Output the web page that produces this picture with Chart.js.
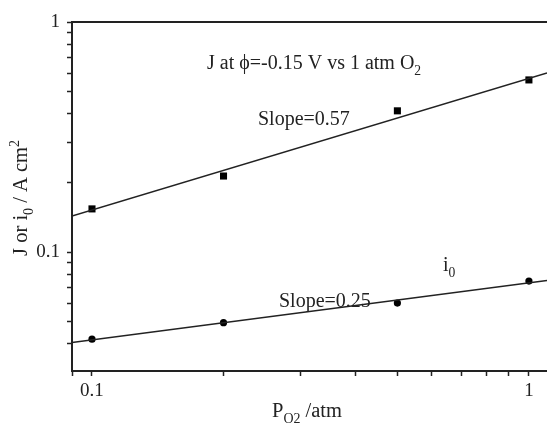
<!DOCTYPE html>
<html>
<head>
<meta charset="utf-8">
<script src="https://cdn.jsdelivr.net/npm/chart.js@4.4.1/dist/chart.umd.min.js"></script>
<style>
  html, body { margin: 0; padding: 0; background: #fff; overflow: hidden; }
  canvas { display: block; }
</style>
</head>
<body>
<canvas id="chart" width="547" height="423"></canvas>
<script>
// data
const pressures = [0.1, 0.2, 0.5, 1];
const jValues = [0.154, 0.214, 0.411, 0.56];
const i0Values = [0.0418, 0.0493, 0.060, 0.0748];

// fitted lines, end points at the plot edges
const fitX = [0.09, 1.1];
const jFit = [0.1435, 0.60];
const i0Fit = [0.0404, 0.0752];

// axes
const xMin = 0.09, xMax = 1.1;
const yMin = 0.0304, yMax = 1;
const xTickValues = [0.09, 0.1, 0.2, 0.3, 0.4, 0.5, 0.6, 0.7, 0.8, 0.9, 1];
const yTickValues = [0.04, 0.05, 0.06, 0.07, 0.08, 0.09, 0.1, 0.2, 0.3, 0.4, 0.5, 0.6, 0.7, 0.8, 0.9, 1];
const labelledTicks = [0.1, 1];

const FONT = '"Liberation Serif", "Times New Roman", serif';
const INK = "#222";

function pts(xs, ys) {
  return xs.map((x, i) => ({ x: x, y: ys[i] }));
}

// text with sub/superscripts: parts = [[text, shift]], shift -1 sub, 1 sup
function richWidth(ctx, parts, size) {
  let w = 0;
  parts.forEach(([t, s]) => {
    ctx.font = (s ? size * 0.68 : size) + "px " + FONT;
    w += ctx.measureText(t).width;
  });
  return w;
}

function drawRich(ctx, parts, x, y, size) {
  let cx = x;
  parts.forEach(([t, s]) => {
    ctx.font = (s ? size * 0.68 : size) + "px " + FONT;
    const dy = s === -1 ? size * 0.28 : s === 1 ? -size * 0.38 : 0;
    ctx.fillText(t, cx, y + dy);
    cx += ctx.measureText(t).width;
  });
}

const textPlugin = {
  id: "texts",
  afterDraw(chart) {
    const ctx = chart.ctx;
    const area = chart.chartArea;
    ctx.save();

    // top frame line
    ctx.strokeStyle = INK;
    ctx.lineWidth = 2;
    ctx.beginPath();
    ctx.moveTo(area.left - 1, area.top);
    ctx.lineTo(area.right, area.top);
    ctx.stroke();

    ctx.fillStyle = INK;
    ctx.textAlign = "left";
    ctx.textBaseline = "alphabetic";

    drawRich(ctx, [["J at ϕ=-0.15 V vs 1 atm O", 0], ["2", -1]], 207, 69, 20);
    drawRich(ctx, [["Slope=0.57", 0]], 258, 125, 20);
    drawRich(ctx, [["Slope=0.25", 0]], 279, 307, 20);
    drawRich(ctx, [["i", 0], ["0", -1]], 443, 271, 20);

    // x axis title
    const xt = [["P", 0], ["O2", -1], [" /atm", 0]];
    const xw = richWidth(ctx, xt, 20.5);
    drawRich(ctx, xt, 307 - xw / 2, 417, 20.5);

    // y axis title
    const yt = [["J or i", 0], ["0", -1], [" / A cm", 0], ["2", 1]];
    const yw = richWidth(ctx, yt, 20.5);
    ctx.translate(27, 198);
    ctx.rotate(-Math.PI / 2);
    drawRich(ctx, yt, -yw / 2, 0, 20.5);

    ctx.restore();
  }
};

function fixedTicks(values) {
  return (scale) => {
    scale.ticks = values.map((v) => ({ value: v, major: labelledTicks.includes(v) }));
  };
}

function tickLabel(value) {
  return labelledTicks.includes(value) ? String(value) : "";
}

new Chart(document.getElementById("chart"), {
  type: "scatter",
  data: {
    datasets: [
      {
        label: "J fit",
        data: pts(fitX, jFit),
        showLine: true,
        borderColor: INK,
        borderWidth: 1.5,
        pointRadius: 0
      },
      {
        label: "i0 fit",
        data: pts(fitX, i0Fit),
        showLine: true,
        borderColor: INK,
        borderWidth: 1.5,
        pointRadius: 0
      },
      {
        label: "J",
        data: pts(pressures, jValues),
        pointStyle: "rect",
        pointRadius: 5,
        backgroundColor: "#000",
        borderColor: "#000",
        borderWidth: 0
      },
      {
        label: "i0",
        data: pts(pressures, i0Values),
        pointStyle: "circle",
        pointRadius: 3.6,
        backgroundColor: "#000",
        borderColor: "#000",
        borderWidth: 0
      }
    ]
  },
  options: {
    responsive: false,
    animation: false,
    layout: { autoPadding: false, padding: { top: 22, left: 0, right: 0, bottom: 0 } },
    plugins: {
      legend: { display: false },
      tooltip: { enabled: false }
    },
    scales: {
      x: {
        type: "logarithmic",
        min: xMin,
        max: xMax,
        afterBuildTicks: fixedTicks(xTickValues),
        afterFit: (scale) => {
          scale.height = 52;
          scale.paddingLeft = 0;
          scale.paddingRight = 0;
        },
        border: { display: true, color: INK, width: 2 },
        grid: { drawOnChartArea: false, tickLength: 5, tickColor: INK, tickWidth: 1.5 },
        ticks: {
          autoSkip: false,
          maxRotation: 0,
          padding: 4,
          color: INK,
          font: { family: FONT, size: 19 },
          callback: tickLabel
        }
      },
      y: {
        type: "logarithmic",
        min: yMin,
        max: yMax,
        afterBuildTicks: fixedTicks(yTickValues),
        afterFit: (scale) => {
          scale.width = 72;
          scale.paddingTop = 0;
          scale.paddingBottom = 0;
        },
        border: { display: true, color: INK, width: 2 },
        grid: { drawOnChartArea: false, tickLength: 5, tickColor: INK, tickWidth: 1.5 },
        ticks: {
          autoSkip: false,
          padding: 7,
          color: INK,
          font: { family: FONT, size: 19 },
          callback: tickLabel
        }
      }
    }
  },
  plugins: [textPlugin]
});
</script>
</body>
</html>
